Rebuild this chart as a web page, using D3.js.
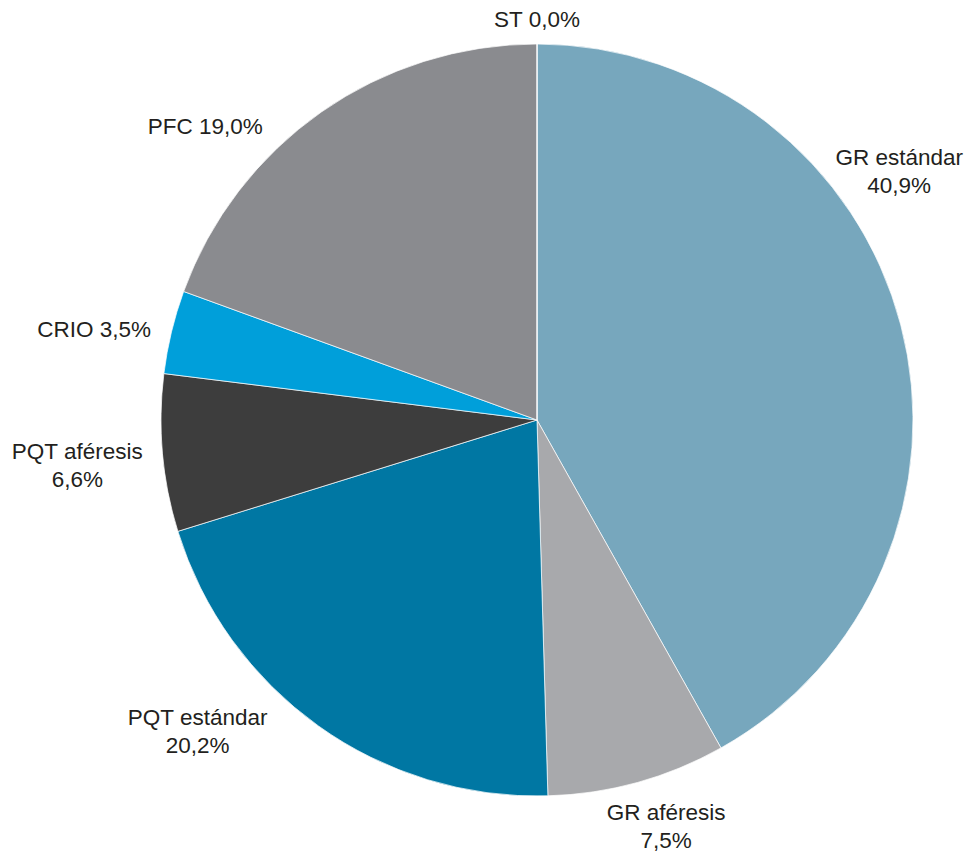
<!DOCTYPE html>
<html>
<head>
<meta charset="utf-8">
<script src="https://cdn.jsdelivr.net/npm/d3@7"></script>
<style>
  body { margin: 0; background: #fff; }
  text { font-family: "Liberation Sans", Arial, sans-serif; fill: #231f20; }
</style>
</head>
<body>
<svg id="pie-chart" width="964" height="852"></svg>
<script>
// slice data, clockwise from 12 o'clock
var categories = ["GR estándar", "GR aféresis", "PQT estándar", "PQT aféresis", "CRIO", "PFC", "ST"]
var values = [40.9, 7.5, 20.2, 6.6, 3.5, 19.0, 0.0]
var valueLabels = ["40,9%", "7,5%", "20,2%", "6,6%", "3,5%", "19,0%", "0,0%"]
var colors = ["#77a7bd", "#a8a9ac", "#0077a3", "#3d3d3d", "#009fda", "#8a8b8f", "#8a8b8f"]

// label placement: angle (deg from top, clockwise), distance from centre, split over 2 lines?
var labelLayout = {
  "GR estándar":  {a: 55.6, r: 439, twoLines: true},
  "GR aféresis":  {a: 162.4, r: 427, twoLines: true},
  "PQT estándar": {a: 227.4, r: 461, twoLines: true},
  "PQT aféresis": {a: 264.3, r: 462, twoLines: true},
  "CRIO":         {a: 281.5, r: 452, twoLines: false},
  "PFC":          {a: 311.5, r: 443, twoLines: false},
  "ST":           {a: 0, r: 400, twoLines: false}
}

var cx = 537, cy = 420, radius = 376

var data = categories.map(function(c, i) {
  return {name: c, value: values[i], label: valueLabels[i], color: colors[i]}
})

var svg = d3.select("#pie-chart")
var g = svg.append("g").attr("transform", "translate(" + cx + "," + cy + ")")

var pie = d3.pie()
    .sort(null)
    .value(function(d) { return d.value; })

var arc = d3.arc().innerRadius(0).outerRadius(radius)

g.selectAll("path.slice")
    .data(pie(data))
  .enter().append("path")
    .attr("class", "slice")
    .attr("d", arc)
    .attr("fill", function(d) { return d.data.color; })
    .attr("stroke", "#fff")
    .attr("stroke-width", 0.7)

// labels
var labels = g.selectAll("text.lbl")
    .data(data)
  .enter().append("text")
    .attr("class", "lbl")
    .attr("text-anchor", "middle")
    .style("font-size", "22.5px")
    .attr("transform", function(d) {
      var L = labelLayout[d.name]
      var p = d3.pointRadial(L.a * Math.PI / 180, L.r)
      return "translate(" + p[0] + "," + p[1] + ")"
    })

labels.each(function(d) {
  var t = d3.select(this)
  if (labelLayout[d.name].twoLines) {
    t.append("tspan").attr("x", 0).attr("dy", "-0.3em").text(d.name)
    t.append("tspan").attr("x", 0).attr("dy", "1.25em").text(d.label)
  } else {
    t.append("tspan").attr("x", 0).attr("dy", "0.32em").text(d.name + " " + d.label)
  }
})
</script>
</body>
</html>
